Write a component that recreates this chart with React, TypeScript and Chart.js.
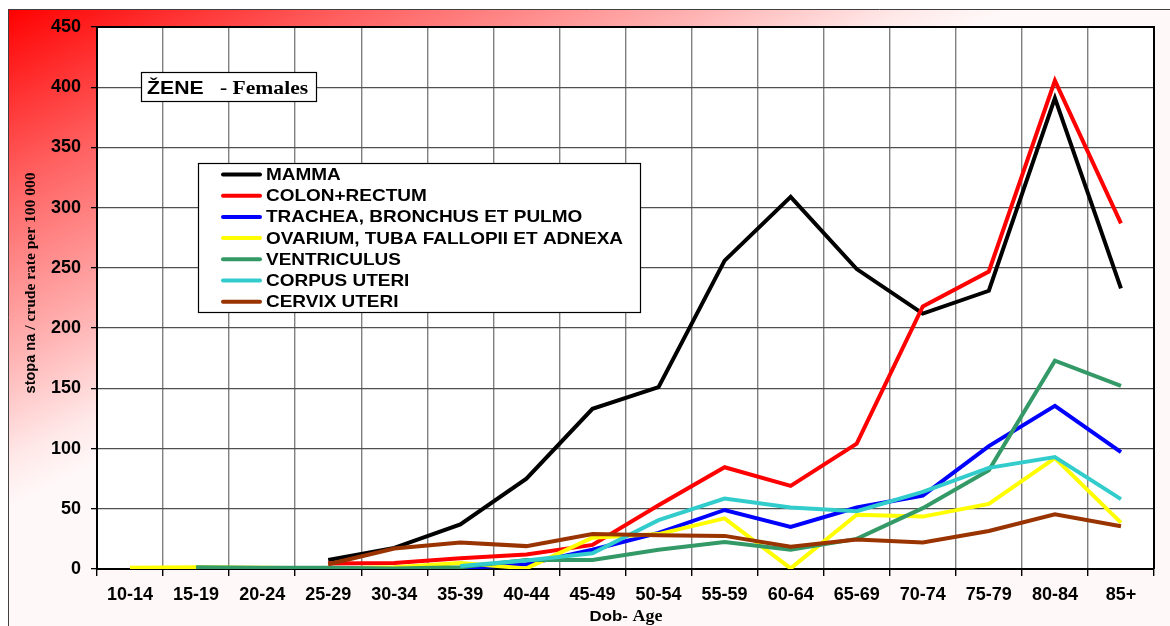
import React, { useEffect, useRef } from "react";
import { Chart, registerables } from "chart.js";

Chart.register(...registerables);

const categories = ["10-14", "15-19", "20-24", "25-29", "30-34", "35-39", "40-44", "45-49", "50-54", "55-59", "60-64", "65-69", "70-74", "75-79", "80-84", "85+"];

const mamma = [null, null, null, 7.5, 17.5, 37, 75, 133, 151, 256, 309, 249, 212, 231, 391, 233];
const colonRectum = [null, null, null, 4.5, 5, 9, 12, 20, 53, 84.5, 69, 104, 218, 247, 405.5, 287];
const tracheaBronchusPulmo = [null, null, null, null, 1, 0.5, 4, 16, 30, 49, 35, 51, 61, 102, 135.5, 97];
const ovariumTubaFallopii = [1, 1.5, 1, 0.5, 1.5, 5, 0.5, 26, 29, 42, 0.5, 45, 43.5, 54, 92, 38.5];
const ventriculus = [null, 1.5, 1, 1, 0.5, 1.5, 7.5, 7.5, 16, 22.5, 16, 25, 50.5, 82, 173, 152];
const corpusUteri = [null, null, null, null, null, 2.5, 7, 13, 40.5, 58.5, 51, 48, 64, 84, 93, 58];
const cervixUteri = [null, null, null, 4, 17, 22, 19, 29, 28, 27.5, 18.5, 24.5, 22, 31.5, 45.5, 35.5];

const seriesNames = [
  "MAMMA",
  "COLON+RECTUM",
  "TRACHEA, BRONCHUS ET PULMO",
  "OVARIUM, TUBA FALLOPII ET ADNEXA",
  "VENTRICULUS",
  "CORPUS UTERI",
  "CERVIX UTERI",
];
const seriesValues = [mamma, colonRectum, tracheaBronchusPulmo, ovariumTubaFallopii, ventriculus, corpusUteri, cervixUteri];
const seriesColors = ["#000000", "#ff0000", "#0000ff", "#ffff00", "#339966", "#33cccc", "#993300"];

const yTicksMin = 0;
const yTicksMax = 450;
const yTicksStep = 50;

const yTitleSans = "stopa na ";
const yTitleSerif = "/ crude rate per 100 000";
const xTitleSans = "Dob- ";
const xTitleSerif = "Age";
const boxTitleSans = "ŽENE";
const boxTitleSerif = "- Females";

const SANS = "'Liberation Sans', Arial, sans-serif";
const SERIF = "'Liberation Serif', 'Times New Roman', serif";

function stretchedText(ctx: any, text: string, x: number, y: number, sx: number) {
  ctx.save();
  ctx.translate(x, y);
  ctx.scale(sx, 1);
  ctx.fillText(text, 0, 0);
  ctx.restore();
  return ctx.measureText(text).width * sx;
}

const decorPlugin = {
  id: "decor",
  beforeDraw(chart: any) {
    const { ctx, chartArea, width, height } = chart;
    ctx.save();
    const x0 = 8, y0 = 9;
    const g = ctx.createLinearGradient(x0, y0, x0 + 200, y0 + 400);
    g.addColorStop(0, "#ff0000");
    g.addColorStop(0.35, "#ff6060");
    g.addColorStop(0.7, "#ffb3b3");
    g.addColorStop(0.9, "#ffe8e8");
    g.addColorStop(1, "#fff8f8");
    ctx.fillStyle = "#ffffff";
    ctx.fillRect(0, 0, width, height);
    ctx.fillStyle = g;
    ctx.fillRect(x0, y0, width - x0, height - y0);
    ctx.fillStyle = "#ffffff";
    ctx.fillRect(chartArea.left, chartArea.top, chartArea.right - chartArea.left, chartArea.bottom - chartArea.top);
    ctx.strokeStyle = "#404040";
    ctx.lineWidth = 1;
    ctx.beginPath();
    ctx.moveTo(x0 + 0.5, height);
    ctx.lineTo(x0 + 0.5, y0 + 0.5);
    ctx.lineTo(width, y0 + 0.5);
    ctx.stroke();
    ctx.restore();
  },
  afterDatasetsDraw(chart: any) {
    const { ctx, chartArea } = chart;
    ctx.save();
    ctx.strokeStyle = "#000000";
    ctx.lineWidth = 2;
    ctx.beginPath();
    ctx.moveTo(chartArea.left, chartArea.top);
    ctx.lineTo(chartArea.right, chartArea.top);
    ctx.lineTo(chartArea.right, chartArea.bottom);
    ctx.stroke();
    ctx.restore();
  },
  afterDraw(chart: any) {
    const { ctx } = chart;
    // Y title
    ctx.save();
    ctx.fillStyle = "#000000";
    ctx.translate(31, 283);
    ctx.rotate(-Math.PI / 2);
    ctx.textBaseline = "middle";
    ctx.textAlign = "left";
    ctx.font = `bold 14.5px ${SANS}`;
    const w1 = ctx.measureText(yTitleSans).width;
    ctx.font = `bold 15.5px ${SERIF}`;
    const w2 = ctx.measureText(yTitleSerif).width;
    const sx = -(w1 + w2) / 2;
    ctx.font = `bold 14.5px ${SANS}`;
    ctx.fillText(yTitleSans, sx, 0);
    ctx.font = `bold 15.5px ${SERIF}`;
    ctx.fillText(yTitleSerif, sx + w1, 0);
    ctx.restore();

    // X title
    ctx.save();
    ctx.fillStyle = "#000000";
    ctx.textBaseline = "alphabetic";
    ctx.textAlign = "left";
    const st = 1.12;
    ctx.font = `bold 15px ${SANS}`;
    const a1 = ctx.measureText(xTitleSans).width * st;
    ctx.font = `bold 16px ${SERIF}`;
    const a2 = ctx.measureText(xTitleSerif).width * st;
    const ax = 626 - (a1 + a2) / 2;
    ctx.font = `bold 15px ${SANS}`;
    stretchedText(ctx, xTitleSans, ax, 621, st);
    ctx.font = `bold 16px ${SERIF}`;
    stretchedText(ctx, xTitleSerif, ax + a1, 621, st);
    ctx.restore();

    // ŽENE box
    ctx.save();
    ctx.fillStyle = "#ffffff";
    ctx.fillRect(141, 72, 175, 29);
    ctx.strokeStyle = "#000000";
    ctx.lineWidth = 1.2;
    ctx.strokeRect(141.5, 72.5, 175, 29);
    ctx.fillStyle = "#000000";
    ctx.textBaseline = "alphabetic";
    ctx.textAlign = "left";
    ctx.font = `bold 18px ${SANS}`;
    stretchedText(ctx, boxTitleSans, 147, 94, 1.18);
    ctx.font = `bold 18px ${SERIF}`;
    stretchedText(ctx, boxTitleSerif, 220, 94, 1.2);
    ctx.restore();

    // Legend box
    ctx.save();
    ctx.fillStyle = "#ffffff";
    ctx.fillRect(198, 163, 442, 149);
    ctx.strokeStyle = "#000000";
    ctx.lineWidth = 1.2;
    ctx.strokeRect(198.5, 163.5, 442, 149);
    ctx.textBaseline = "middle";
    ctx.textAlign = "left";
    ctx.font = `bold 16.5px ${SANS}`;
    for (let i = 0; i < seriesNames.length; i++) {
      const y = 174.5 + i * 21.2;
      ctx.strokeStyle = seriesColors[i];
      ctx.lineWidth = 4;
      ctx.lineCap = "round";
      ctx.beginPath();
      ctx.moveTo(223, y);
      ctx.lineTo(260, y);
      ctx.stroke();
      ctx.fillStyle = "#000000";
      stretchedText(ctx, seriesNames[i], 266, y + 1, 1.15);
    }
    ctx.restore();
  },
};

export default function App() {
  const ref = useRef<HTMLCanvasElement | null>(null);
  useEffect(() => {
    if (!ref.current) return;
    const chart = new Chart(ref.current, {
      type: "line",
      data: {
        labels: categories,
        datasets: seriesValues.map((vals, i) => ({
          label: seriesNames[i],
          data: vals,
          borderColor: seriesColors[i],
          backgroundColor: seriesColors[i],
          borderWidth: 4,
          pointRadius: 0,
          tension: 0,
          fill: false,
          spanGaps: false,
          order: 10 - i,
        })),
      },
      options: {
        responsive: false,
        animation: false,
        devicePixelRatio: 1,
        layout: { padding: { left: 0, top: 27, right: 16, bottom: 0 } },
        plugins: {
          legend: { display: false },
          tooltip: { enabled: false },
          title: { display: false },
        },
        scales: {
          x: {
            type: "category",
            offset: true,
            afterFit: (s: any) => {
              s.height = 57;
            },
            grid: {
              offset: true,
              color: "#808080",
              lineWidth: 1.4,
              tickColor: "#000000",
              tickLength: 7,
              drawOnChartArea: true,
            },
            border: { display: true, color: "#000000", width: 2 },
            ticks: {
              color: "#000000",
              font: { family: SANS, size: 18, weight: "bold" },
              padding: 8,
              maxRotation: 0,
              autoSkip: false,
            },
          },
          y: {
            min: yTicksMin,
            max: yTicksMax,
            afterFit: (s: any) => {
              s.width = 97;
            },
            grid: {
              color: "#505050",
              lineWidth: 1.3,
              tickColor: "#000000",
              tickLength: 6,
            },
            border: { display: true, color: "#000000", width: 2 },
            ticks: {
              stepSize: yTicksStep,
              color: "#000000",
              font: { family: SANS, size: 18, weight: "bold" },
              padding: 10,
            },
          },
        },
      },
      plugins: [decorPlugin],
    });
    return () => chart.destroy();
  }, []);
  return (
    <div style={{ position: "absolute", left: 0, top: 0, width: 1170, height: 626 }}>
      <canvas ref={ref} width={1170} height={626} style={{ display: "block" }} />
    </div>
  );
}
